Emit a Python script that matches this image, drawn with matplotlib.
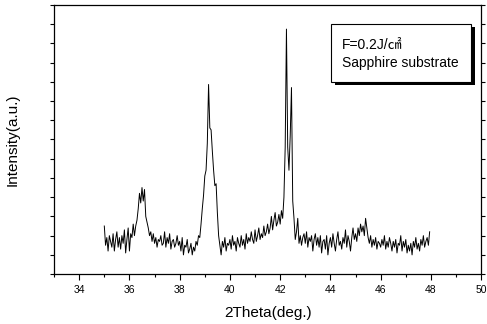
import matplotlib
matplotlib.use("Agg")
import matplotlib.pyplot as plt
from matplotlib.patches import Rectangle
from matplotlib.ticker import MultipleLocator
import numpy as np

# XRD trace, 2theta from 35.00 in steps of 0.05
intensity = [
    1.25, 0.75, 0.95, 0.6, 1.0, 0.85, 0.7, 1.05, 0.6, 0.9,
    1.1, 0.7, 0.95, 0.65, 1.0, 0.8, 1.15, 0.55, 0.9, 1.2,
    0.6, 1.05, 0.95, 1.3, 1.0, 1.25, 1.4, 1.7, 2.1, 1.85,
    2.25, 1.9, 2.2, 1.5, 1.35, 1.2, 1.0, 1.1, 0.85, 1.05,
    0.8, 0.95, 0.7, 0.9, 0.85, 1.0, 0.75, 0.8, 1.1, 0.7,
    0.95, 0.8, 1.05, 0.65, 0.85, 0.9, 0.7, 0.8, 1.0, 0.75,
    0.85, 0.6, 0.95, 0.5, 0.75, 0.7, 0.9, 0.55, 0.65, 0.8,
    0.5, 0.7, 0.6, 0.85, 0.75, 1.0, 0.95, 1.3, 1.7, 2.05,
    2.55, 2.7, 3.4, 4.93, 3.8, 3.75, 3.2, 2.7, 2.3, 2.35,
    1.6, 1.0, 0.75, 0.5, 0.85, 0.7, 0.95, 0.6, 0.8, 0.75,
    0.9, 0.65, 1.0, 0.75, 0.85, 0.6, 0.95, 0.8, 0.7, 1.0,
    0.75, 0.9, 0.65, 1.05, 0.8, 0.95, 0.85, 1.1, 0.9, 0.8,
    1.15, 0.85, 1.0, 1.2, 0.9, 1.05, 0.95, 1.25, 1.0, 1.1,
    1.3, 1.05, 1.2, 1.5, 1.15, 1.4, 1.6, 1.25, 1.35, 1.55,
    1.3, 1.65, 1.45, 2.0, 3.3, 6.37, 3.3, 2.7, 3.6, 4.85,
    1.9, 1.45, 0.9, 1.1, 1.45, 0.8, 1.0, 0.75, 0.95, 1.05,
    0.8, 1.1, 0.7, 0.95, 0.85, 1.0, 0.6, 0.9, 1.05, 0.75,
    0.95, 0.7, 1.0, 0.55, 0.85, 0.9, 0.65, 1.0, 0.5, 0.8,
    0.95, 0.7, 1.05, 0.8, 0.6, 0.9, 1.1, 0.75, 0.85, 0.65,
    0.95, 0.8, 1.15, 0.7, 1.0, 0.85, 0.6, 0.95, 1.2, 0.9,
    1.05, 0.85, 1.2, 1.0, 1.3, 1.1, 1.25, 1.0, 1.45, 1.2,
    0.95, 0.8, 1.0, 0.7, 0.9, 0.75, 0.95, 0.65, 0.85, 0.8,
    0.7, 0.9, 0.75, 1.0, 0.65, 0.85, 0.7, 0.95, 0.8, 0.6,
    0.85, 0.7, 0.9, 0.55, 0.8, 0.75, 1.0, 0.6, 0.85, 0.7,
    0.9, 0.55, 0.75, 0.6, 0.8, 0.5, 0.85, 0.7, 0.95, 0.65,
    0.8, 0.6, 0.9, 0.75, 1.0, 0.7, 0.85, 0.95, 0.75, 1.1,
]
two_theta = 35.0 + 0.05 * np.arange(len(intensity))

x_ticks = [34, 36, 38, 40, 42, 44, 46, 48, 50]
label_lines = ["F=0.2J/\u33a0", "Sapphire substrate"]

font = ["Liberation Sans", "Noto Sans CJK JP"]

fig = plt.figure(figsize=(4.87, 3.24), dpi=100)
ax = fig.add_axes([0.111, 0.154, 0.877, 0.831])

ax.plot(two_theta, intensity, color="black", linewidth=0.7)

ax.set_xlim(33, 50)
ax.set_ylim(0, 7)
ax.set_xticks(x_ticks)
ax.set_xticklabels([str(t) for t in x_ticks], family=font, fontsize=7.5)
ax.xaxis.set_minor_locator(MultipleLocator(1))
ax.set_yticks(np.arange(0.5, 7, 1.0))
ax.yaxis.set_minor_locator(MultipleLocator(0.5))
ax.set_yticklabels([])
ax.tick_params(axis="x", which="major", direction="out", length=4, width=0.8)
ax.tick_params(axis="x", which="minor", direction="out", length=2.5, width=0.8)
ax.tick_params(axis="y", which="both", direction="out", length=3, width=0.8, right=True)

for s in ax.spines.values():
    s.set_linewidth(0.9)

ax.set_xlabel("2Theta(deg.)", family=font, fontsize=11, labelpad=8)
ax.set_ylabel("Intensity(a.u.)", family=font, fontsize=11, labelpad=18)

# box with shadow
ax.add_patch(Rectangle((0.657, 0.703), 0.328, 0.215, transform=ax.transAxes,
                       facecolor="black", edgecolor="none", zorder=4))
ax.add_patch(Rectangle((0.649, 0.714), 0.328, 0.215, transform=ax.transAxes,
                       facecolor="white", edgecolor="black", linewidth=0.8, zorder=5))
ax.text(0.674, 0.851, label_lines[0], transform=ax.transAxes, family=font,
        fontsize=10, va="center", zorder=6)
ax.text(0.674, 0.784, label_lines[1], transform=ax.transAxes, family=font,
        fontsize=10, va="center", zorder=6)

fig.savefig("out.png", dpi=100)
